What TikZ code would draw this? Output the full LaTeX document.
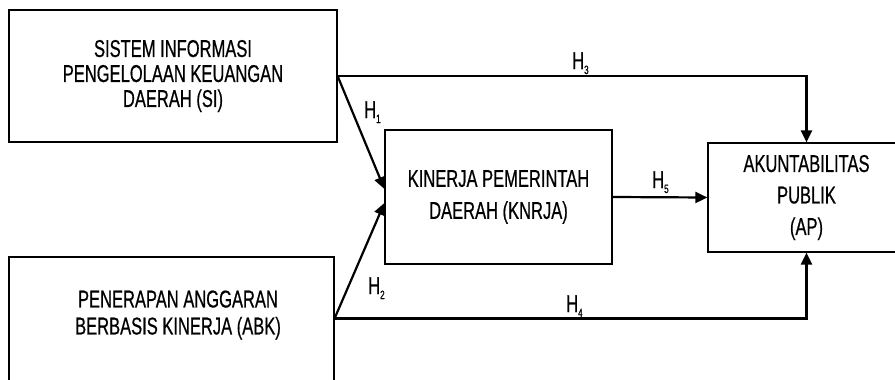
\documentclass[tikz,border=0pt]{standalone}
\usepackage{fontspec}
\setmainfont{Liberation Sans}[FakeStretch=0.68,FakeBold=0.6]
\usetikzlibrary{arrows.meta,calc}
\newcommand{\hsub}[1]{H\raisebox{-5pt}{\fontsize{12}{12}\selectfont #1}}
\tikzset{
  box/.style={draw, line width=1.2pt, rectangle, inner sep=0pt, align=center},
  txt/.style={font=\fontsize{24.3}{25}\selectfont},
  conn/.style={line width=2.2pt, -{Triangle[length=12pt,width=11pt]}},
  lab/.style={inner sep=0pt, anchor=base west, font=\fontsize{24.3}{25}\selectfont}
}
\begin{document}
\begin{tikzpicture}[x=1pt,y=-1pt]
\useasboundingbox (0,0) rectangle (895,380);
\node[box, txt, minimum width=328pt, minimum height=132pt] (SI) at (173,76)
  {SISTEM INFORMASI\\PENGELOLAAN KEUANGAN\\DAERAH (SI)};
\node[box, minimum width=325pt, minimum height=140pt] (ABK) at (171.5,327) {};
\node[align=center, font=\fontsize{24.3}{27}\selectfont] (ABKt) at (178,315)
  {PENERAPAN ANGGARAN\\BERBASIS KINERJA (ABK)};
\node[box, font=\fontsize{24.3}{32}\selectfont, minimum width=227pt, minimum height=134pt] (K) at (498.5,197)
  {KINERJA PEMERINTAH\\DAERAH (KNRJA)};
\node[box, font=\fontsize{24.3}{31.5}\selectfont, minimum width=197pt, minimum height=109pt] (AP) at (806.5,197.5)
  {AKUNTABILITAS\\PUBLIK\\(AP)};
\coordinate (s2) at ($(ABK.north east)+(0,62)$);
\draw[conn] (SI.east) -| (AP.north);
\draw[conn] (SI.east) -- ($(K.west)+(0,-8)$);
\draw[conn] (s2) -- ($(K.west)+(0,6)$);
\draw[conn] (s2) -| (AP.south);
\draw[conn] (K.east) -- (AP.west);
\node[lab] (h1) at (364,118) {\hsub{1}};
\node[lab] (h2) at (368,294) {\hsub{2}};
\node[lab] (h3) at (572,69) {\hsub{3}};
\node[lab] (h4) at (566,312) {\hsub{4}};
\node[lab] (h5) at (652,188) {\hsub{5}};
\end{tikzpicture}
\end{document}
